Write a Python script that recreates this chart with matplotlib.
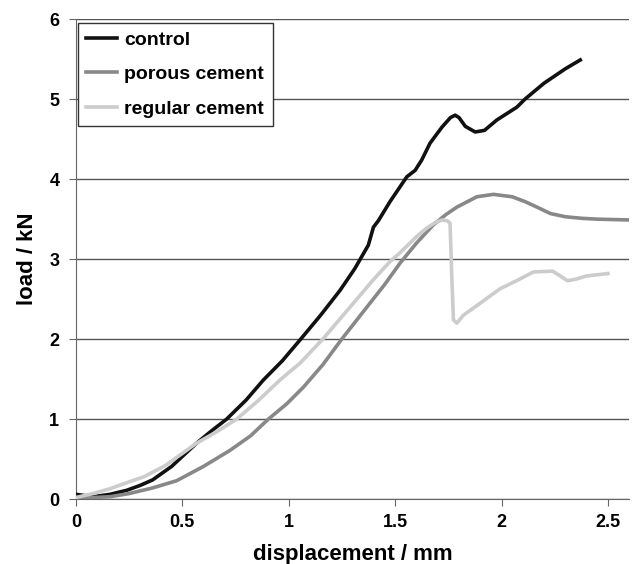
import matplotlib
matplotlib.use("Agg")
import matplotlib.pyplot as plt

plt.rcParams['font.family'] = ['Liberation Sans', 'DejaVu Sans']

# control
ctrl_x = [0.0, 0.08, 0.16, 0.238, 0.3, 0.36, 0.45, 0.567, 0.64, 0.708, 0.8, 0.881, 0.97,
          1.053, 1.15, 1.241, 1.31, 1.374, 1.398, 1.421, 1.476, 1.555, 1.594, 1.625, 1.664,
          1.72, 1.76, 1.782, 1.80, 1.83, 1.876, 1.92, 1.978, 2.072, 2.11, 2.2, 2.3, 2.37]
ctrl_y = [0.06, 0.03, 0.06, 0.11, 0.17, 0.24, 0.41, 0.70, 0.86, 1.0, 1.24, 1.49, 1.73,
          1.99, 2.3, 2.61, 2.88, 3.175, 3.40, 3.48, 3.72, 4.03, 4.11, 4.24, 4.45,
          4.65, 4.77, 4.8, 4.77, 4.66, 4.59, 4.61, 4.74, 4.90, 5.0, 5.2, 5.38, 5.49]

# porous cement
por_x = [0.0, 0.08, 0.16, 0.25, 0.36, 0.473, 0.6, 0.724, 0.82, 0.904, 0.99, 1.069, 1.16,
         1.249, 1.367, 1.45, 1.523, 1.6, 1.68, 1.74, 1.79, 1.884, 1.962, 2.05, 2.11, 2.167,
         2.23, 2.3, 2.38, 2.45, 2.6]
por_y = [0.02, 0.02, 0.03, 0.07, 0.14, 0.23, 0.41, 0.61, 0.79, 1.0, 1.19, 1.40, 1.68,
         2.0, 2.4, 2.68, 2.95, 3.2, 3.43, 3.56, 3.65, 3.78, 3.81, 3.78, 3.72, 3.65,
         3.57, 3.53, 3.51, 3.5, 3.49]

# regular cement
reg_x = [0.0, 0.08, 0.16, 0.254, 0.32, 0.42, 0.567, 0.66, 0.755, 0.86, 0.959, 1.053,
         1.16, 1.288, 1.4, 1.476, 1.523, 1.6, 1.649, 1.69, 1.72, 1.745, 1.758, 1.766, 1.774,
         1.79, 1.821, 1.9, 1.993, 2.07, 2.15, 2.24, 2.27, 2.31, 2.35, 2.40, 2.50]
reg_y = [0.02, 0.07, 0.13, 0.22, 0.28, 0.42, 0.70, 0.84, 1.0, 1.24, 1.49, 1.70,
         2.0, 2.40, 2.75, 2.97, 3.08, 3.28, 3.39, 3.46, 3.49, 3.48, 3.45, 2.8, 2.24,
         2.20, 2.30, 2.45, 2.63, 2.73, 2.84, 2.85, 2.80, 2.73, 2.75, 2.79, 2.82]

fig = plt.figure(figsize=(6.33, 5.64), dpi=100)
ax = fig.add_axes([0.12, 0.115, 0.874, 0.851])

ax.plot(ctrl_x, ctrl_y, color='#111111', lw=2.6, label='control', zorder=3,
        solid_joinstyle='round')
ax.plot(por_x, por_y, color='#888888', lw=2.6, label='porous cement', zorder=3,
        solid_joinstyle='round')
ax.plot(reg_x, reg_y, color='#cccccc', lw=2.6, label='regular cement', zorder=3,
        solid_joinstyle='round')

ax.set_xlim(0, 2.6)
ax.set_ylim(0, 6)
ax.set_xticks([0, 0.5, 1, 1.5, 2, 2.5])
ax.set_xticklabels(['0', '0.5', '1', '1.5', '2', '2.5'])
ax.set_yticks(range(7))
ax.yaxis.grid(True, color='#555555', lw=1)
ax.set_axisbelow(True)
for s in ['top', 'right']:
    ax.spines[s].set_visible(False)
for s in ['left', 'bottom']:
    ax.spines[s].set_color('#666666')
ax.tick_params(direction='out', length=5, color='#666666', labelsize=13)
ax.tick_params(axis='x', pad=6)
ax.tick_params(axis='y', pad=7)
for lab in ax.get_xticklabels() + ax.get_yticklabels():
    lab.set_fontweight('bold')

ax.set_xlabel('displacement / mm', fontsize=16, fontweight='bold', labelpad=9)
ax.set_ylabel('load / kN', fontsize=16, fontweight='bold', labelpad=8)

leg = ax.legend(loc='upper left', bbox_to_anchor=(0.003, 0.993), fancybox=False,
                edgecolor='#333333', framealpha=1, prop={'weight': 'bold', 'size': 14},
                handlelength=1.6, handletextpad=0.35, labelspacing=0.86,
                borderpad=0.45, borderaxespad=0.0)
leg.get_frame().set_linewidth(1.0)

plt.savefig('out.png', dpi=100)
